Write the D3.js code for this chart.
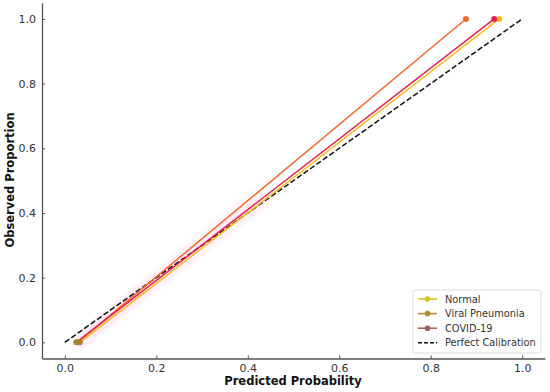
<!DOCTYPE html>
<html><head><meta charset="utf-8">
<script src="https://cdn.jsdelivr.net/npm/d3@7"></script>
<style>body{margin:0;background:#fff}svg{display:block}text{font-family:"DejaVu Sans",sans-serif}</style>
</head><body><svg id="c" width="550" height="392"></svg>
<script>
const series = ["Normal", "Viral Pneumonia", "COVID-19"];
const lineColors = ["#f6bd1f", "#f26a2a", "#e8204e"];
const legendColors = ["#d6c21e", "#b98a2a", "#a35a5a"];
const predNormal = [0.033, 0.950];
const obsNormal = [0.0, 1.0];
const predViral = [0.028, 0.877];
const obsViral = [0.0, 1.0];
const predCovid = [0.025, 0.939];
const obsCovid = [0.0, 1.0];
const perfect = [0, 1];
const xTicks = [0.0, 0.2, 0.4, 0.6, 0.8, 1.0];
const yTicks = [0.0, 0.2, 0.4, 0.6, 0.8, 1.0];

const svg = d3.select("#c");
const x = d3.scaleLinear().domain([-0.05, 1.05]).range([42, 545]);
const y = d3.scaleLinear().domain([-0.05, 1.05]).range([358.5, 2.8]);

const data = [
  {name: series[0], px: predNormal, py: obsNormal, c: lineColors[0]},
  {name: series[1], px: predViral, py: obsViral, c: lineColors[1]},
  {name: series[2], px: predCovid, py: obsCovid, c: lineColors[2]}
];

// faint bands
const g = svg.append("g");
data.forEach(d => {
  const pts = d.px.map((v, i) => [v, d.py[i]]);
  const area = d3.area().x(p => x(p[0])).y0(p => y(p[1] - 0.03)).y1(p => y(p[1] + 0.03));
  const lowPts = [pts[0], [pts[0][0] + (pts[1][0] - pts[0][0]) * 0.45, pts[0][1] + (pts[1][1] - pts[0][1]) * 0.45]];
  g.append("path").datum(lowPts).attr("d", area).attr("fill", "#f7b6e0").attr("opacity", 0.1);
});

// perfect calibration
svg.append("line")
  .attr("x1", x(perfect[0])).attr("y1", y(perfect[0]))
  .attr("x2", x(perfect[1])).attr("y2", y(perfect[1]))
  .attr("stroke", "#111").attr("stroke-width", 1.5).attr("stroke-dasharray", "5.5,2.4");

const line = d3.line().x(p => x(p[0])).y(p => y(p[1]));
data.forEach(d => {
  const pts = d.px.map((v, i) => [v, d.py[i]]);
  svg.append("path").datum(pts).attr("d", line).attr("fill", "none")
    .attr("stroke", d.c).attr("stroke-width", 1.5);
});
data.forEach(d => {
  d.px.forEach((v, i) => {
    svg.append("circle").attr("cx", x(v)).attr("cy", y(d.py[i])).attr("r", 3)
      .attr("fill", i === 0 ? "#a8823c" : d.c);
  });
});

// axes
const axColor = "#555";
const xa = svg.append("g").attr("transform", "translate(0,358.5)")
  .call(d3.axisBottom(x).tickValues(xTicks).tickFormat(d3.format(".1f")).tickSizeInner(-3).tickSizeOuter(0).tickPadding(6));
const ya = svg.append("g").attr("transform", "translate(42,0)")
  .call(d3.axisLeft(y).tickValues(yTicks).tickFormat(d3.format(".1f")).tickSizeInner(-3).tickSizeOuter(0).tickPadding(6));
[xa, ya].forEach(a => {
  a.select(".domain").attr("stroke", axColor).attr("stroke-width", 1.3);
  a.selectAll(".tick line").attr("stroke", axColor);
  a.selectAll(".tick text").attr("fill", "#333").style("font-size", "11px").style("font-family", "DejaVu Sans");
});

svg.append("text").attr("x", 293).attr("y", 385).attr("text-anchor", "middle")
  .style("font-size", "11.5px").style("font-weight", "bold").attr("fill", "#111").text("Predicted Probability");
svg.append("text").attr("transform", "translate(14,180) rotate(-90)").attr("text-anchor", "middle")
  .style("font-size", "11.5px").style("font-weight", "bold").attr("fill", "#111").text("Observed Proportion");

// legend
const lg = svg.append("g").attr("transform", "translate(413,290)");
lg.append("rect").attr("width", 128).attr("height", 63).attr("rx", 2)
  .attr("fill", "#fff").attr("fill-opacity", 0.85).attr("stroke", "#ddd");
const items = series.map((s, i) => ({name: s, c: legendColors[i], dash: false}))
  .concat([{name: "Perfect Calibration", c: "#111", dash: true}]);
items.forEach((it, i) => {
  const yy = 9 + i * 14.6;
  lg.append("line").attr("x1", 5).attr("x2", 24).attr("y1", yy).attr("y2", yy)
    .attr("stroke", it.c).attr("stroke-width", 1.5).attr("stroke-dasharray", it.dash ? "4,2" : null);
  if (!it.dash) lg.append("circle").attr("cx", 14.5).attr("cy", yy).attr("r", 2.8).attr("fill", it.c);
  lg.append("text").attr("x", 32).attr("y", yy + 3.5).style("font-size", "9.8px").attr("fill", "#333").text(it.name);
});
</script></body></html>
